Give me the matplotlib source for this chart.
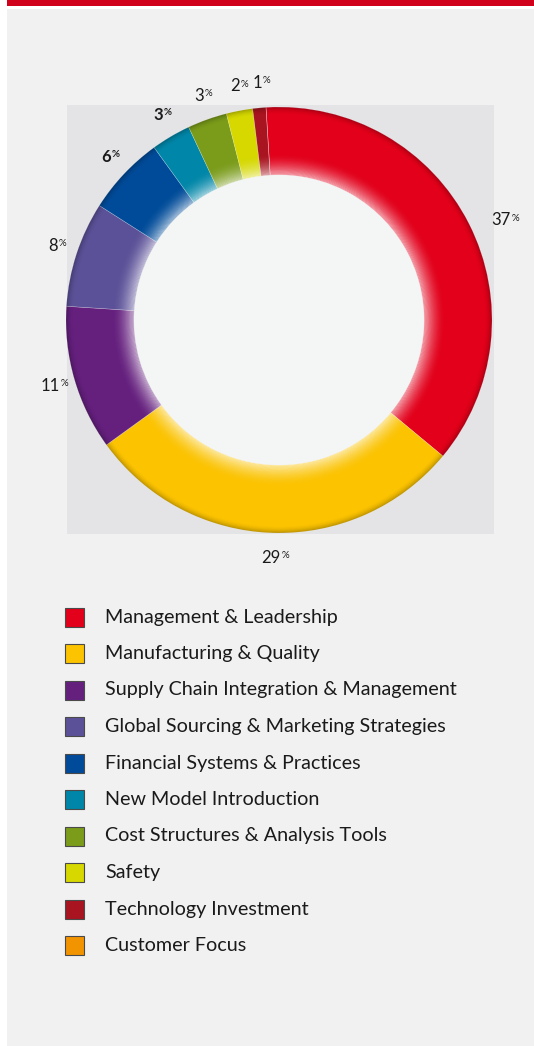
import numpy as np
import matplotlib.pyplot as plt
from matplotlib.patches import Rectangle, Wedge, Circle

plt.rcParams['font.family'] = ['Lato', 'DejaVu Sans']

# training topics and their share of the programme (%)
categories = [
    "Management & Leadership",
    "Manufacturing & Quality",
    "Supply Chain Integration & Management",
    "Global Sourcing & Marketing Strategies",
    "Financial Systems & Practices",
    "New Model Introduction",
    "Cost Structures & Analysis Tools",
    "Safety",
    "Technology Investment",
    "Customer Focus",
]
shares = [37, 29, 11, 8, 6, 3, 3, 2, 1, 0]
colors = ["#e2001a", "#fbc300", "#65207e", "#5b5198", "#004b99",
          "#0086a8", "#7a9c1a", "#d6d800", "#a8141f", "#f29400"]
bold_label = [False, False, False, False, True, True, False, False, False, False]

W, H = 534, 1046
fig = plt.figure(figsize=(W / 100, H / 100), dpi=100)
fig.patch.set_facecolor("white")
ax = fig.add_axes([0, 0, 1, 1])

# page furniture: red strip on top, light panel, grey square behind the ring
ax.add_patch(Rectangle((7, H - 6), W - 7, 6, color="#d0021b", lw=0))
ax.add_patch(Rectangle((7, 0), W - 7, H - 9, color="#f1f1f1", lw=0))
ax.add_patch(Rectangle((67, H - 534), 427, 429, color="#e4e4e6", lw=0))

cx, cy = 279, H - 320
R, r_in = 213, 145
start = 93.5

ax.pie(shares, colors=colors, startangle=start, counterclock=False,
       radius=R, center=(cx, cy),
       wedgeprops=dict(width=R - r_in, linewidth=0.4, edgecolor=(1, 1, 1, 0.35)))
ax.add_patch(Circle((cx, cy), r_in, color="#f4f6f6", lw=0, zorder=3))

# glossy look: light glow on the inner edge, dark rim on the outside
n = 28
for i in range(n):
    r0 = r_in + i * 0.8
    a = 0.72 * (1 - i / n) ** 2
    ax.add_patch(Wedge((cx, cy), r0 + 0.8, 0, 360, width=0.8,
                       color="white", alpha=a, lw=0, zorder=4))
for i in range(8):
    r0 = R - 8 + i
    a = 0.3 * (i / 8) ** 2
    ax.add_patch(Wedge((cx, cy), r0 + 1, 0, 360, width=1,
                       color="black", alpha=a, lw=0, zorder=4))

# percentage labels around the ring
cum = np.cumsum([0] + shares)
rl = 238
for k, val in enumerate(shares):
    if val == 0:
        continue
    t1 = start - 360 * cum[k] / 100
    t2 = start - 360 * cum[k + 1] / 100
    mid = np.radians((t1 + t2) / 2)
    x = cx + rl * np.cos(mid)
    y = cy + rl * np.sin(mid)
    ha = "left" if np.cos(mid) > 0.5 else "center"
    va = "top" if np.cos(mid) > 0.5 else "center"
    w = "bold" if bold_label[k] else "normal"
    num = ax.text(x, y, str(val), fontsize=12, color="#1a1a1a",
                  ha=ha, va=va, fontweight=w, zorder=5)
    ax.annotate("%", xy=(1, 1), xycoords=num, xytext=(0.5, -1),
                textcoords="offset points", fontsize=7, color="#1a1a1a",
                ha="left", va="top", fontweight=w, zorder=5)

# legend
for i, (name, c) in enumerate(zip(categories, colors)):
    yc = H - (617 + 36.5 * i)
    ax.add_patch(Rectangle((65, yc - 9.5), 19, 19, facecolor=c,
                           edgecolor="#4a4a4a", lw=0.8, zorder=5))
    ax.text(105, yc, name, fontsize=14.2, color="#1a1a1a",
            ha="left", va="center", zorder=5)

ax.set_xlim(0, W)
ax.set_ylim(0, H)
ax.set_aspect("equal")
ax.axis("off")

fig.savefig("out.png", dpi=100)
